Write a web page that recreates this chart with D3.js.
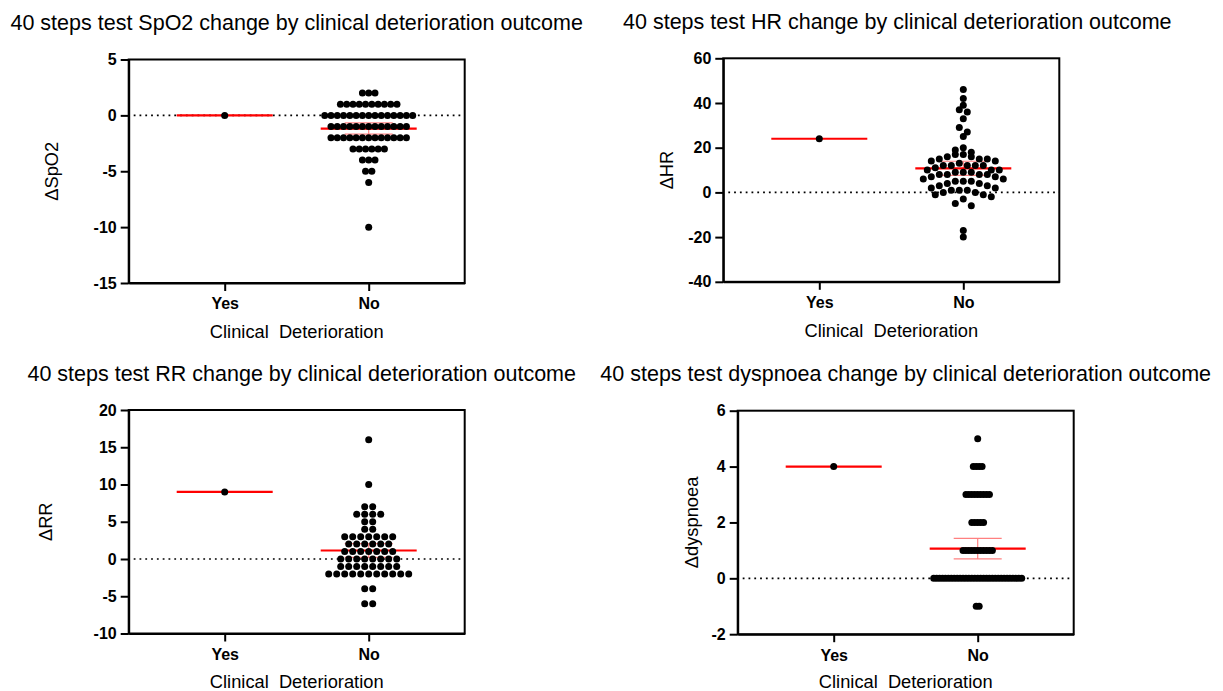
<!DOCTYPE html>
<html>
<head>
<meta charset="utf-8">
<script src="https://cdn.jsdelivr.net/npm/d3@7"></script>
<style>
  body { margin: 0; background: #fff; }
  svg { display: block; }
  text { font-family: Arial, "Liberation Sans", sans-serif; fill: #000; }
</style>
</head>
<body>
<svg id="chart"></svg>
<script>
const groups = ["Yes", "No"];

// values, one entry per dot
const spo2Yes = [0];
const spo2No = [2, 2, 2,
  1, 1, 1, 1, 1, 1, 1, 1, 1, 1,
  0, 0, 0, 0, 0, 0, 0, 0, 0, 0, 0, 0, 0, 0, 0,
  -1, -1, -1, -1, -1, -1, -1, -1, -1, -1, -1, -1, -1,
  -2, -2, -2, -2, -2, -2, -2, -2, -2, -2, -2, -2, -2,
  -3, -3, -3, -3, -3, -3,
  -4, -4, -4,
  -5, -5,
  -6,
  -10];

const hrYes = [24];
const hrNo = [46, 42, 39, 37, 36, 33, 29, 27, 25,
  20, 19, 18, 17, 17, 16, 16, 15, 15, 15, 14, 14, 13,
  12, 12, 12, 12, 12, 11, 10, 10, 10, 9, 9, 9, 8, 8, 8, 8,
  7, 7, 6, 6, 5, 5, 5, 4, 4, 3, 3, 2, 2, 1, 1, 1,
  0, 0, -1, -1, -2, -3, -5, -6, -17, -20];

const rrYes = [9];
const rrNo = [16, 10, 7, 7, 6, 6, 6, 6, 5, 5, 4, 4,
  3, 3, 3, 3, 3, 3, 3,
  2, 2, 2, 2, 2, 2,
  1, 1, 1, 1, 1, 1, 1,
  0, 0, 0, 0, 0, 0, 0, 0,
  -1, -1, -1, -1, -1, -1, -1, -1,
  -2, -2, -2, -2, -2, -2, -2, -2, -2, -2, -2,
  -4, -4, -6, -6];

const dyspYes = [4];
const dyspNo = [5, 4, 4, 4, 4,
  3, 3, 3, 3, 3, 3, 3, 3, 3,
  2, 2, 2, 2, 2,
  1, 1, 1, 1, 1, 1, 1, 1, 1, 1, 1,
  0, 0, 0, 0, 0, 0, 0, 0, 0, 0, 0, 0, 0, 0, 0, 0,
  0, 0, 0, 0, 0, 0, 0, 0, 0, 0, 0, 0, 0, 0, 0,
  -1, -1];

const spo2Ticks = [5, 0, -5, -10, -15];
const hrTicks = [60, 40, 20, 0, -20, -40];
const rrTicks = [20, 15, 10, 5, 0, -5, -10];
const dyspTicks = [6, 4, 2, 0, -2];

const w = 1223, h = 691;
const pw = 336, ph = 223.5;

const panels = [
  { title: "40 steps test SpO2 change by clinical deterioration outcome", label: "\u0394SpO2",
    yes: spo2Yes, no: spo2No, ticks: spo2Ticks, bin: 1, left: 128.7, top: 59.5,
    labelOff: 77, titleDx: 0, xtY: 55.3 },
  { title: "40 steps test HR change by clinical deterioration outcome", label: "\u0394HR",
    yes: hrYes, no: hrNo, ticks: hrTicks, bin: 4, left: 723.3, top: 58.3,
    labelOff: 57, titleDx: 6, xtY: 55.3 },
  { title: "40 steps test RR change by clinical deterioration outcome", label: "\u0394RR",
    yes: rrYes, no: rrNo, ticks: rrTicks, bin: 1, left: 128.7, top: 410,
    labelOff: 83, titleDx: 5, xtY: 54 },
  { title: "40 steps test dyspnoea change by clinical deterioration outcome", label: "\u0394dyspnoea",
    yes: dyspYes, no: dyspNo, ticks: dyspTicks, bin: 1, left: 737.7, top: 410.7,
    labelOff: 46, titleDx: 0, xtY: 53.5 }
];

const svg = d3.select("#chart").attr("width", w).attr("height", h);

// group values into rows, rows spread sideways like a column scatter
function binRows(values, binW) {
  const rows = d3.groups(values, v => Math.round(v / binW));
  return rows.map(r => r[1].slice().sort((a, b) => b - a));
}

function drawPanel(p) {
  const g = svg.append("g").attr("transform", `translate(${p.left},${p.top})`);

  const x = d3.scalePoint().domain(groups).range([0, pw]).padding(2 / 3);
  const y = d3.scaleLinear().domain(d3.extent(p.ticks)).range([ph, 0]);

  const data = { Yes: p.yes, No: p.no };
  const rowsBy = {};
  groups.forEach(k => rowsBy[k] = binRows(data[k], p.bin));
  const maxN = d3.max(groups, k => d3.max(rowsBy[k], r => r.length));
  const step = Math.min(8, 88 / Math.max(1, maxN - 1));

  // dotted zero line
  g.append("line")
    .attr("x1", 5).attr("x2", pw)
    .attr("y1", y(0)).attr("y2", y(0))
    .attr("stroke", "#000")
    .attr("stroke-width", 1.6)
    .attr("stroke-dasharray", "1.8,4");

  const meanW = x.step() * 2 / 3;

  groups.forEach(k => {
    const vals = data[k];
    const m = d3.mean(vals);
    const cx = x(k);
    if (vals.length > 1) {
      const ci = 2.0 * d3.deviation(vals) / Math.sqrt(vals.length);
      const eb = g.append("g").attr("stroke", "#ff8080").attr("stroke-width", 1.2);
      eb.append("line").attr("x1", cx).attr("x2", cx).attr("y1", y(m - ci)).attr("y2", y(m + ci));
      [m - ci, m + ci].forEach(v => {
        eb.append("line").attr("x1", cx - meanW / 4).attr("x2", cx + meanW / 4)
          .attr("y1", y(v)).attr("y2", y(v));
      });
    }
    g.append("line")
      .attr("x1", cx - meanW / 2).attr("x2", cx + meanW / 2)
      .attr("y1", y(m)).attr("y2", y(m))
      .attr("stroke", "#ff0000")
      .attr("stroke-width", 2.2);
  });

  groups.forEach(k => {
    const pts = [];
    rowsBy[k].forEach(row => {
      const n = row.length;
      const offs = d3.range(n).map(i => (i - (n - 1) / 2) * step)
        .sort((a, b) => Math.abs(a) - Math.abs(b) || a - b);
      row.forEach((v, i) => pts.push({ v: v, dx: offs[i] }));
    });
    g.selectAll(null)
      .data(pts)
      .enter().append("circle")
      .attr("cx", d => x(k) + d.dx)
      .attr("cy", d => y(d.v))
      .attr("r", 3.5)
      .attr("fill", "#000");
  });

  // frame
  g.append("rect")
    .attr("width", pw).attr("height", ph)
    .attr("fill", "none")
    .attr("stroke", "#000")
    .attr("stroke-width", 2);

  const ya = g.append("g")
    .call(d3.axisLeft(y).tickValues(p.ticks).tickFormat(d => String(d))
      .tickSize(8).tickSizeOuter(0).tickPadding(4));
  const xa = g.append("g")
    .attr("transform", `translate(0,${ph})`)
    .call(d3.axisBottom(x).tickSize(8).tickSizeOuter(0).tickPadding(7));
  [ya, xa].forEach(a => {
    a.selectAll("path, line").attr("stroke", "#000").attr("stroke-width", 2);
    a.selectAll("text")
      .attr("font-size", 16)
      .attr("font-weight", "bold")
      .attr("font-family", "Arial, 'Liberation Sans', sans-serif")
      .attr("fill", "#000");
  });

  g.append("text")
    .attr("x", pw / 2)
    .attr("y", ph + p.xtY)
    .attr("text-anchor", "middle")
    .attr("font-size", 18.3)
    .text("Clinical\u00a0 Deterioration");

  g.append("text")
    .attr("transform", `translate(${-p.labelOff},${ph / 2}) rotate(-90)`)
    .attr("text-anchor", "middle")
    .attr("dy", "0.35em")
    .attr("font-size", 18.3)
    .text(p.label);

  g.append("text")
    .attr("x", pw / 2 + p.titleDx)
    .attr("y", -29.5)
    .attr("text-anchor", "middle")
    .attr("font-size", 21.5)
    .text(p.title);
}

panels.forEach(drawPanel);
</script>
</body>
</html>
